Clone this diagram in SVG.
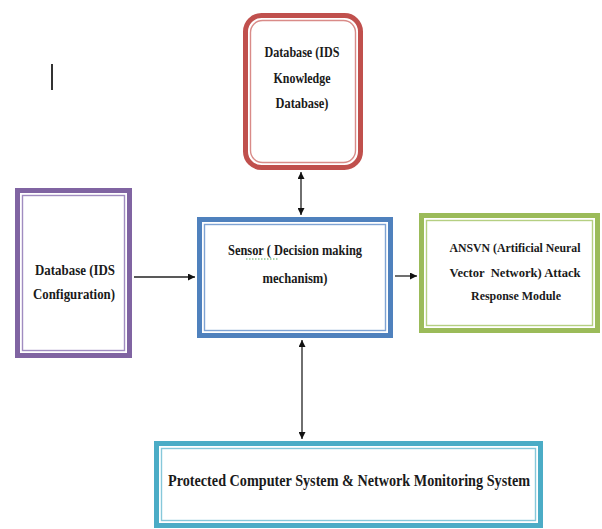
<svg xmlns="http://www.w3.org/2000/svg" width="602" height="529" viewBox="0 0 602 529">
  <defs>
    <marker id="arrow" viewBox="0 0 10 10" refX="10" refY="5" markerWidth="7" markerHeight="7" markerUnits="userSpaceOnUse" orient="auto-start-reverse">
      <path d="M0,0 L10,5 L0,10 z" fill="#111"/>
    </marker>
  </defs>
  <style>
    text { font-family: "Liberation Serif", "Times New Roman", serif; font-weight: bold; fill: #1a1a1a; text-anchor: middle; white-space: pre; }
    .lbl { font-size: 15px; }
    .mid { font-size: 13.5px; }
    .big { font-size: 17px; }
    .conn { stroke: #222; stroke-width: 1.3; fill: none; }
    .red-o { fill: #fff; stroke: #c0504d; stroke-width: 5; }
    .red-i { fill: none; stroke: #d98b88; stroke-width: 1.4; }
    .pur-o { fill: #fff; stroke: #8064a2; stroke-width: 5; }
    .pur-i { fill: none; stroke: #a08cc0; stroke-width: 1.4; }
    .blu-o { fill: #fff; stroke: #4f81bd; stroke-width: 5; }
    .blu-i { fill: none; stroke: #7fa3d3; stroke-width: 1.4; }
    .grn-o { fill: #fff; stroke: #9bbb59; stroke-width: 5; }
    .grn-i { fill: none; stroke: #b5cf82; stroke-width: 1.4; }
    .cya-o { fill: #fff; stroke: #4bacc6; stroke-width: 5; }
    .cya-i { fill: none; stroke: #86c8da; stroke-width: 1.4; }
  </style>
  <rect width="602" height="529" fill="#ffffff"/>

  <!-- stray cursor mark -->
  <line x1="52" y1="64" x2="52" y2="90" stroke="#333" stroke-width="2"/>

  <g id="connectors">
    <line class="conn" x1="301" y1="172" x2="301" y2="215" marker-start="url(#arrow)" marker-end="url(#arrow)"/>
    <line class="conn" x1="134" y1="277" x2="195" y2="277" marker-end="url(#arrow)"/>
    <line class="conn" x1="395" y1="276" x2="417" y2="276" marker-end="url(#arrow)"/>
    <line class="conn" x1="302" y1="340" x2="302" y2="439" marker-start="url(#arrow)" marker-end="url(#arrow)"/>
  </g>

  <g id="knowledge-db">
    <rect class="red-o" x="245.5" y="15.5" width="115" height="152" rx="16"/>
    <rect class="red-i" x="250.5" y="20.5" width="105" height="142" rx="12"/>
    <text class="lbl" x="302" y="57" textLength="75" lengthAdjust="spacingAndGlyphs">Database (IDS</text>
    <text class="lbl" x="302" y="83" textLength="57" lengthAdjust="spacingAndGlyphs">Knowledge</text>
    <text class="lbl" x="302" y="108" textLength="53" lengthAdjust="spacingAndGlyphs">Database)</text>
  </g>

  <g id="config-db">
    <rect class="pur-o" x="17.5" y="190.5" width="112" height="165"/>
    <rect class="pur-i" x="22.5" y="195.5" width="102" height="155"/>
    <text class="lbl" x="75" y="275" textLength="80" lengthAdjust="spacingAndGlyphs">Database (IDS</text>
    <text class="lbl" x="74" y="299" textLength="82" lengthAdjust="spacingAndGlyphs">Configuration)</text>
  </g>

  <g id="sensor">
    <rect class="blu-o" x="199.5" y="219.5" width="191" height="116"/>
    <rect class="blu-i" x="204.5" y="224.5" width="181" height="106"/>
    <text class="lbl" x="295" y="255" textLength="134" lengthAdjust="spacingAndGlyphs">Sensor ( Decision making</text>
    <line x1="246" y1="259" x2="278" y2="259" stroke="#5aa85a" stroke-width="1" stroke-dasharray="1.5 1.5"/>
    <text class="lbl" x="295" y="283" textLength="65" lengthAdjust="spacingAndGlyphs">mechanism)</text>
  </g>

  <g id="ansvn">
    <rect class="grn-o" x="421.5" y="215.5" width="176" height="115"/>
    <rect class="grn-i" x="426.5" y="220.5" width="166" height="105"/>
    <text class="mid" x="515" y="252" textLength="131" lengthAdjust="spacingAndGlyphs">ANSVN (Artificial Neural</text>
    <text class="mid" x="515" y="277" textLength="131" lengthAdjust="spacingAndGlyphs">Vector  Network) Attack</text>
    <text class="mid" x="516" y="300" textLength="90" lengthAdjust="spacingAndGlyphs">Response Module</text>
  </g>

  <g id="protected-system">
    <rect class="cya-o" x="156.5" y="443.5" width="384" height="82"/>
    <rect class="cya-i" x="161.5" y="448.5" width="374" height="72"/>
    <text class="big" x="349" y="486" textLength="362" lengthAdjust="spacingAndGlyphs">Protected Computer System &amp; Network Monitoring System</text>
  </g>
</svg>
